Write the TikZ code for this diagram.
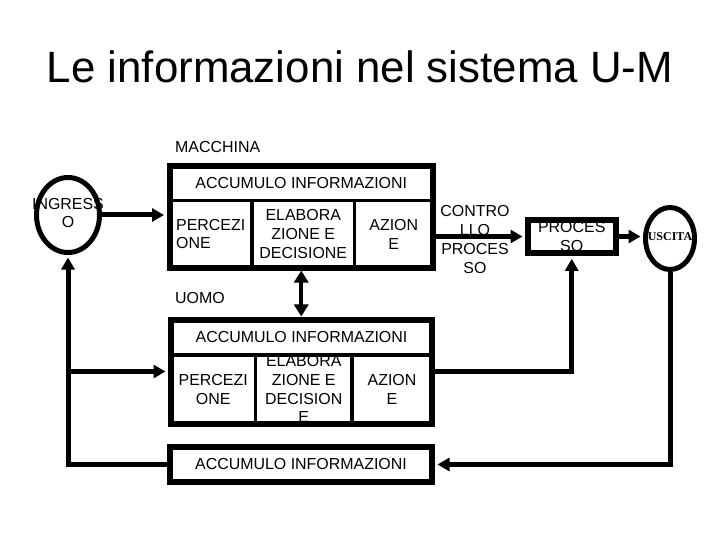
\documentclass[tikz,border=0pt]{standalone}
\usepackage{fontspec}
\setmainfont{Liberation Sans}
\newfontfamily\seriffont{Liberation Serif}
\usetikzlibrary{arrows.meta,shapes.geometric}

\begin{document}
\begin{tikzpicture}[x=1bp,y=-1bp,
    txt/.style={font=\fontsize{16}{19}\selectfont, align=center, inner sep=0pt},
    cell/.style={txt, draw, line width=3.5bp},
    frame/.style={draw, line width=6bp, inner sep=0pt},
    oval/.style={draw, ellipse, line width=5bp, inner sep=0pt},
    link/.style={line width=5bp, shorten >=2.5bp, -{Triangle[length=12bp,width=13bp]}}]
  \useasboundingbox (0,0) rectangle (720,540);
  \node[font=\fontsize{44}{50}\selectfont, anchor=base] (titolo) at (360,83) {Le informazioni nel sistema U-M};
  % macchina
  \node[txt, anchor=west] (lblmacchina) at (175,147) {MACCHINA};
  \node[cell, minimum width=263.5bp, minimum height=34.5bp] (macc) at (301.25,183.25) {ACCUMULO INFORMAZIONI};
  \node[cell, minimum width=82.5bp, minimum height=67bp, align=left] (mperc) at (210.75,234) {PERCEZI\\ONE};
  \node[cell, minimum width=102.5bp, minimum height=67bp] (melab) at (303.25,234) {ELABORA\\ZIONE E\\DECISIONE};
  \node[cell, minimum width=78.5bp, minimum height=67bp] (mazion) at (393.75,234) {AZION\\E};
  \node[frame, minimum width=263.5bp, minimum height=101.5bp] (macchina) at (301.25,216.75) {};
  % uomo
  \node[txt, anchor=west] (lbluomo) at (175,298) {UOMO};
  \node[cell, minimum width=84.5bp, minimum height=68.5bp] (uperc) at (213.25,389.25) {PERCEZI\\ONE};
  \node[cell, minimum width=96.5bp, minimum height=68.5bp] (uelab) at (303.75,389.25) {};
  \node[txt] (uelabtxt) at (303.75,389) {ELABORA\\ZIONE E\\DECISION\\E};
  \node[cell, minimum width=80bp, minimum height=68.5bp] (uazion) at (392,389.25) {AZION\\E};
  \node[cell, fill=white, minimum width=261bp, minimum height=35.5bp] (uacc) at (301.5,337.25) {ACCUMULO INFORMAZIONI};
  \node[frame, minimum width=261bp, minimum height=104bp] (uomo) at (301.5,371.5) {};
  % memoria
  \node[frame, txt, minimum width=262bp, minimum height=35bp] (memoria) at (301,464.5) {ACCUMULO INFORMAZIONI};
  % processo
  \node[txt] (lblcontrollo) at (475,239.5) {CONTRO\\LLO\\PROCES\\SO};
  \node[frame, txt, minimum width=87.5bp, minimum height=33.6bp] (processo) at (571.75,236.5) {PROCES\\SO};
  % ingresso e uscita
  \node[txt] (ingressotxt) at (68,213) {INGRESS\\O};
  \node[oval, minimum width=63bp, minimum height=75bp] (ingresso) at (68,215) {};
  \node[font=\seriffont\bfseries\fontsize{12}{14}\selectfont, inner sep=0pt] (uscitatxt) at (670,237) {USCITA};
  \node[oval, minimum width=49bp, minimum height=62bp] (uscita) at (670,238.5) {};
  \begin{scope}[link]
    \draw (ingresso.east) to (ingresso.east -| macchina.west);
    \draw (processo.west -| macchina.east) to (processo.west);
    \draw (processo.east) to (processo.east -| uscita.west);
    \draw (uomo.east) -| (processo.south);
    \draw (uscita.south) |- (memoria.east);
    \draw (memoria.west) -| (ingresso.south);
    \draw (uomo.west -| ingresso.south) to (uomo.west);
  \end{scope}
  \draw[line width=4bp, {Triangle[length=12bp,width=14bp]}-{Triangle[length=12bp,width=14bp]}] (macchina.south) to (macchina.south |- uomo.north);
\end{tikzpicture}
\end{document}
